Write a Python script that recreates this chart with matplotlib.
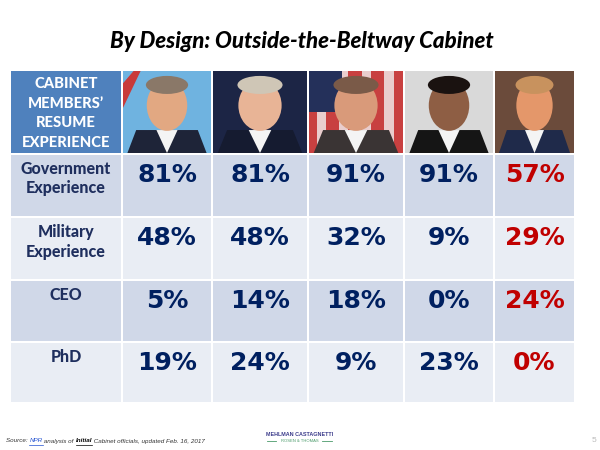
import matplotlib
matplotlib.use("Agg")
import matplotlib.pyplot as plt
from matplotlib.patches import Rectangle, Ellipse, Polygon

# ---------------- data ----------------
presidents = ["G.H.W. Bush", "Clinton", "G.W. Bush", "Obama", "Trump"]
categories = ["Government\nExperience", "Military\nExperience", "CEO", "PhD"]
header_label = "CABINET\nMEMBERS\u2019\nRESUME\nEXPERIENCE"
gov = [81, 81, 91, 91, 57]
mil = [48, 48, 32, 9, 29]
ceo = [5, 14, 18, 0, 24]
phd = [19, 24, 9, 23, 0]
title = "By Design: Outside-the-Beltway Cabinet"

# ---------------- layout ----------------
W, H = 600, 450
fig = plt.figure(figsize=(6, 4.5), dpi=100)
ax = fig.add_axes([0, 0, 1, 1])
ax.set_xlim(0, W)
ax.set_ylim(H, 0)
ax.axis("off")

col_edges = [10, 122, 212, 308, 404, 494, 575]
row_edges = [70, 154, 217, 280, 342, 403]
gap = 1.0

HEADER_BLUE = "#4F81BD"
ROW_DARK = "#D0D8E8"
ROW_LIGHT = "#E9EDF4"
NAVY = "#002060"
LABEL_NAVY = "#1F2F5E"
RED = "#C00000"
LABEL_FONT = "Lato"
LABEL_WEIGHT = 900
FOOT = "Liberation Sans"

def cell(x0, x1, y0, y1, color):
    ax.add_patch(Rectangle((x0 + gap, y0 + gap), x1 - x0 - 2 * gap, y1 - y0 - 2 * gap,
                           facecolor=color, edgecolor="none"))

# header label cell
cell(col_edges[0], col_edges[1], row_edges[0], row_edges[1], HEADER_BLUE)
hx = (col_edges[0] + col_edges[1]) / 2
for i, line in enumerate(header_label.split("\n")):
    ax.text(hx, 84 + i * 19.7, line, ha="center", va="center", color="white",
            fontsize=10.6, fontweight=LABEL_WEIGHT, family=LABEL_FONT)

# portrait placeholders (stylised)
portrait_style = [
    dict(bg="#6FB3E0", suit="#1E2438", skin="#E2A882", hair="#8A7868", stripe="#C83A3A"),
    dict(bg="#1C2545", suit="#151B30", skin="#E8B496", hair="#CFC6B6", stripe=None),
    dict(bg="#C84040", suit="#3A3434", skin="#D99A7A", hair="#7A5A48", stripe="#F2F2F2"),
    dict(bg="#D9D9D9", suit="#151515", skin="#8E5E44", hair="#1A1210", stripe=None),
    dict(bg="#6B4B3B", suit="#1F2A4A", skin="#E4976A", hair="#C8925E", stripe=None),
]
y0, y1 = row_edges[0] + gap, row_edges[1] - gap
for j, st in enumerate(portrait_style):
    x0, x1 = col_edges[j + 1] + gap, col_edges[j + 2] - gap
    w, h = x1 - x0, y1 - y0
    ax.add_patch(Rectangle((x0, y0), w, h, facecolor=st["bg"], edgecolor="none"))
    if st["stripe"] is not None:
        if j == 0:
            ax.add_patch(Polygon([(x0, y0 + 0.15 * h), (x0 + 0.12 * w, y0), (x0 + 0.2 * w, y0),
                                  (x0, y0 + 0.45 * h)], closed=True,
                                 facecolor=st["stripe"], edgecolor="none"))
        else:
            for k in range(4):
                ax.add_patch(Rectangle((x0 + (0.08 + 0.24 * k) * w, y0), 0.1 * w, h,
                                       facecolor=st["stripe"], edgecolor="none", alpha=0.8))
            ax.add_patch(Rectangle((x0, y0), 0.35 * w, 0.5 * h, facecolor="#24305A",
                                   edgecolor="none"))
    cx = x0 + 0.5 * w
    ax.add_patch(Polygon([(x0 + 0.05 * w, y1), (x0 + 0.15 * w, y0 + 0.72 * h),
                          (x0 + 0.85 * w, y0 + 0.72 * h), (x0 + 0.95 * w, y1)],
                         closed=True, facecolor=st["suit"], edgecolor="none"))
    ax.add_patch(Polygon([(cx - 0.12 * w, y0 + 0.72 * h), (cx + 0.12 * w, y0 + 0.72 * h),
                          (cx, y1)], closed=True, facecolor="#F4F4F4", edgecolor="none"))
    ax.add_patch(Ellipse((cx, y0 + 0.42 * h), 0.46 * w, 0.62 * h,
                         facecolor=st["skin"], edgecolor="none"))
    ax.add_patch(Ellipse((cx, y0 + 0.17 * h), 0.48 * w, 0.22 * h,
                         facecolor=st["hair"], edgecolor="none"))

# body rows
rows = [gov, mil, ceo, phd]
for i, (cat, vals) in enumerate(zip(categories, rows)):
    ry0, ry1 = row_edges[i + 1], row_edges[i + 2]
    color = ROW_DARK if i % 2 == 0 else ROW_LIGHT
    for j in range(len(col_edges) - 1):
        cell(col_edges[j], col_edges[j + 1], ry0, ry1, color)
    lines = cat.split("\n")
    for k, line in enumerate(lines):
        ax.text(hx, ry0 + 15 + k * 19.5, line, ha="center", va="center", color=LABEL_NAVY,
                fontsize=11.5, fontweight=LABEL_WEIGHT, family=LABEL_FONT)
    for j, v in enumerate(vals):
        cx = (col_edges[j + 1] + col_edges[j + 2]) / 2
        ax.text(cx, ry0 + 21, f"{v}%", ha="center", va="center",
                color=RED if j == len(vals) - 1 else NAVY,
                fontsize=18, fontweight="bold", family="DejaVu Sans")

# title
ax.text(301.5, 41.5, title, ha="center", va="center", fontsize=16, fontweight=900,
        fontstyle="italic", family="Lato", color="black")

# footer
fx, fy = 6, 441
fs = 4.5
t1 = ax.text(fx, fy, "Source: ", fontsize=fs, fontstyle="italic", va="center",
             family=FOOT, color="#333333")
fig.canvas.draw()
r = fig.canvas.get_renderer()
def adv(t):
    bb = t.get_window_extent(renderer=r)
    return bb.width
x = fx + adv(t1)
t2 = ax.text(x, fy, "NPR", fontsize=fs, fontstyle="italic", va="center",
             family=FOOT, color="#1F4FD0")
wd = adv(t2)
ax.plot([x, x + wd], [fy + 3.5, fy + 3.5], color="#1F4FD0", lw=0.5)
x += wd
t3 = ax.text(x, fy, " analysis of ", fontsize=fs, fontstyle="italic", va="center",
             family=FOOT, color="#333333")
x += adv(t3)
t4 = ax.text(x, fy, "Initial", fontsize=fs, fontstyle="italic", fontweight="bold",
             va="center", family=FOOT, color="#000000")
wd = adv(t4)
ax.plot([x, x + wd], [fy + 3.5, fy + 3.5], color="black", lw=0.5)
x += wd
ax.text(x, fy, " Cabinet officials, updated Feb. 16, 2017", fontsize=fs, fontstyle="italic",
        va="center", family=FOOT, color="#333333")

ax.text(300, 435, "MEHLMAN CASTAGNETTI", ha="center", va="center", fontsize=3.9,
        family="Liberation Sans", color="#3A3A8A", fontweight="bold")
ax.text(300, 440.5, "ROSEN & THOMAS", ha="center", va="center", fontsize=3.0,
        family="Liberation Sans", color="#4A9A6A")
ax.plot([267, 276], [440.5, 440.5], color="#4A9A6A", lw=0.6)
ax.plot([322, 332], [440.5, 440.5], color="#4A9A6A", lw=0.6)

ax.text(594, 441, "5", ha="center", va="center", fontsize=6, color="#BBBBBB",
        family="Liberation Sans")

fig.savefig("out.png", dpi=100)
